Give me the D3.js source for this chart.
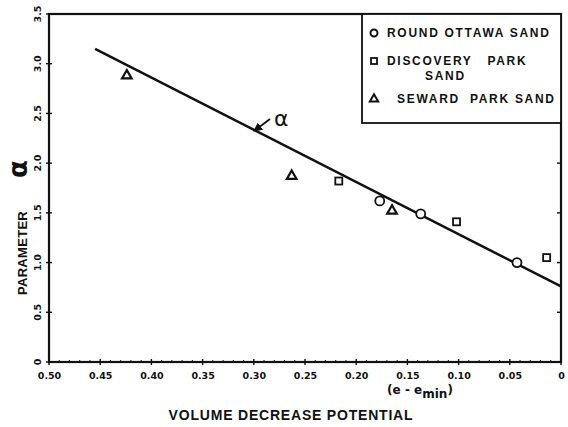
<!DOCTYPE html>
<html><head><meta charset="utf-8">
<script src="https://cdn.jsdelivr.net/npm/d3@7"></script>
<style>body{margin:0;background:#fff}svg{display:block}text{font-family:"Liberation Sans",Arial,sans-serif;fill:#111}</style>
</head><body><svg id="c" width="568" height="427"></svg>
<script>
// Data
const ottawaX = [0.177, 0.137, 0.043];
const ottawaY = [1.62, 1.49, 1.00];
const discoveryX = [0.217, 0.102, 0.014];
const discoveryY = [1.82, 1.41, 1.05];
const sewardX = [0.424, 0.263, 0.165];
const sewardY = [2.88, 1.87, 1.52];
const fitX = [0.455, 0.0];
const fitY = [3.15, 0.76];
const xTicks = [0.50, 0.45, 0.40, 0.35, 0.30, 0.25, 0.20, 0.15, 0.10, 0.05, 0];
const xTickLabels = ["0.50","0.45","0.40","0.35","0.30","0.25","0.20","0.15","0.10","0.05","0"];
const yTicks = [0, 0.5, 1.0, 1.5, 2.0, 2.5, 3.0, 3.5];
const yTickLabels = ["0","0.5","1.0","1.5","2.0","2.5","3.0","3.5"];
const legendLabels = [["ROUND OTTAWA SAND"], ["DISCOVERY   PARK", "SAND"], ["SEWARD  PARK SAND"]];

const svg = d3.select("#c");
const L = 49, R = 561, T = 14, B = 362;
const x = d3.scaleLinear().domain([0.5, 0]).range([L, R]);
const y = d3.scaleLinear().domain([0, 3.5]).range([B, T]);

// frame
svg.append("rect").attr("x", L).attr("y", T).attr("width", R - L).attr("height", B - T)
  .attr("fill", "none").attr("stroke", "#111").attr("stroke-width", 2.2);

// x axis labels
const xAxis = d3.axisBottom(x).tickValues(xTicks).tickSize(0).tickFormat((d, i) => xTickLabels[i]);
const gx = svg.append("g").attr("transform", `translate(0,${B})`).call(xAxis);
gx.select(".domain").remove();
gx.selectAll("text").attr("dy", 0).attr("y", 17).style("font-size", "9.5px").style("font-weight", "bold")
  .style("font-family", "DejaVu Sans").style("fill", "#111");
// major ticks crossing
svg.append("g").selectAll("line").data(xTicks).join("line")
  .attr("x1", d => x(d)).attr("x2", d => x(d)).attr("y1", B - 3).attr("y2", B + 3)
  .attr("stroke", "#111").attr("stroke-width", 1.4);
// minor ticks
const minor = d3.range(1, 50).map(i => i / 100).filter(v => Math.round(v * 100) % 5 !== 0);
svg.append("g").selectAll("line").data(minor).join("line")
  .attr("x1", d => x(d)).attr("x2", d => x(d)).attr("y1", B - 2).attr("y2", B)
  .attr("stroke", "#111").attr("stroke-width", 1);

// y axis ticks & rotated labels
svg.append("g").selectAll("line").data(yTicks).join("line")
  .attr("x1", L - 3).attr("x2", L + 3).attr("y1", d => y(d)).attr("y2", d => y(d))
  .attr("stroke", "#111").attr("stroke-width", 1.4);
svg.append("g").selectAll("line").data(yTicks.slice(1, -1)).join("line")
  .attr("x1", R - 4).attr("x2", R + 1).attr("y1", d => y(d)).attr("y2", d => y(d))
  .attr("stroke", "#111").attr("stroke-width", 1.4);
svg.append("g").selectAll("text").data(yTicks).join("text")
  .attr("transform", d => `translate(41,${y(d)}) rotate(-90)`)
  .attr("text-anchor", "middle").style("font-size", "9.5px").style("font-weight", "bold")
  .style("font-family", "DejaVu Sans")
  .text((d, i) => yTickLabels[i]);

// axis titles
svg.append("text").attr("transform", "translate(27,253) rotate(-90)").attr("text-anchor", "middle")
  .style("font-size", "13px").style("font-weight", "bold").style("letter-spacing", "0.3px").text("PARAMETER");
svg.append("text").attr("transform", "translate(27,169) rotate(-90)").attr("text-anchor", "middle")
  .style("font-size", "26px").style("font-family", "DejaVu Sans").style("font-weight", "bold").text("α");
svg.append("text").attr("x", 291).attr("y", 420).attr("text-anchor", "middle")
  .style("font-size", "14px").style("font-weight", "bold").style("letter-spacing", "0.8px").text("VOLUME DECREASE POTENTIAL");
const et = svg.append("text").attr("x", 420).attr("y", 394).attr("text-anchor", "middle")
  .style("font-size", "12px").style("font-weight", "bold").style("font-family", "DejaVu Sans");
et.append("tspan").text("(e - e");
et.append("tspan").attr("dy", 4).text("min");
et.append("tspan").attr("dy", -4).text(")");

// fit line
svg.append("path").datum(d3.zip(fitX, fitY))
  .attr("d", d3.line().x(d => x(d[0])).y(d => y(d[1])))
  .attr("fill", "none").attr("stroke", "#111").attr("stroke-width", 2.5);

// alpha annotation with arrow
svg.append("defs").append("marker").attr("id", "ah").attr("viewBox", "0 0 10 10")
  .attr("refX", 9).attr("refY", 5).attr("markerWidth", 5).attr("markerHeight", 5).attr("orient", "auto")
  .append("path").attr("d", "M0,0L10,5L0,10z").attr("fill", "#111");
svg.append("line").attr("x1", 270).attr("y1", 119).attr("x2", 254).attr("y2", 131)
  .attr("stroke", "#111").attr("stroke-width", 1.8).attr("marker-end", "url(#ah)");
svg.append("text").attr("x", 274).attr("y", 126).style("font-size", "22px")
  .style("font-family", "DejaVu Sans").text("α");

// markers
const pts = (xs, ys) => d3.zip(xs, ys);
svg.append("g").selectAll("circle").data(pts(ottawaX, ottawaY)).join("circle")
  .attr("cx", d => x(d[0])).attr("cy", d => y(d[1])).attr("r", 4.5)
  .attr("fill", "#fff").attr("stroke", "#111").attr("stroke-width", 1.8);
svg.append("g").selectAll("rect").data(pts(discoveryX, discoveryY)).join("rect")
  .attr("x", d => x(d[0]) - 3.5).attr("y", d => y(d[1]) - 3.5).attr("width", 7).attr("height", 7)
  .attr("fill", "#fff").attr("stroke", "#111").attr("stroke-width", 1.8);
const tri = d3.symbol().type(d3.symbolTriangle).size(40);
svg.append("g").selectAll("path").data(pts(sewardX, sewardY)).join("path")
  .attr("transform", d => `translate(${x(d[0])},${y(d[1])})`).attr("d", tri)
  .attr("fill", "#fff").attr("stroke", "#111").attr("stroke-width", 2.2);

// legend
const lg = svg.append("g");
lg.append("rect").attr("x", 362).attr("y", T).attr("width", R - 362).attr("height", 123 - T)
  .attr("fill", "#fff").attr("stroke", "#111").attr("stroke-width", 1.8);
lg.append("circle").attr("cx", 374).attr("cy", 33).attr("r", 3.5).attr("fill", "#fff").attr("stroke", "#111").attr("stroke-width", 2);
lg.append("rect").attr("x", 371).attr("y", 58).attr("width", 6).attr("height", 6).attr("fill", "#fff").attr("stroke", "#111").attr("stroke-width", 1.8);
lg.append("path").attr("transform", "translate(374,99)").attr("d", d3.symbol().type(d3.symbolTriangle).size(30))
  .attr("fill", "#fff").attr("stroke", "#111").attr("stroke-width", 2);
const lstyle = t => t.style("font-size", "12px").style("font-weight", "bold").style("letter-spacing", "1.7px").style("white-space", "pre");
lstyle(lg.append("text").attr("x", 387).attr("y", 37).text(legendLabels[0][0]));
lstyle(lg.append("text").attr("x", 387).attr("y", 65).text(legendLabels[1][0]));
lstyle(lg.append("text").attr("x", 425).attr("y", 80).text(legendLabels[1][1]));
lstyle(lg.append("text").attr("x", 397).attr("y", 103).text(legendLabels[2][0]));
</script></body></html>
